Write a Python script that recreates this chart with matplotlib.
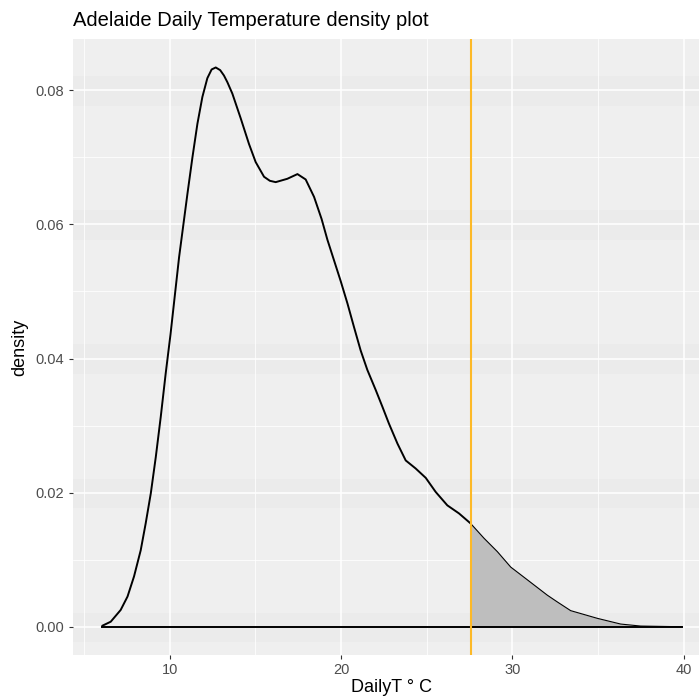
import matplotlib
matplotlib.use('Agg')
import matplotlib.pyplot as plt
from matplotlib.ticker import MultipleLocator, FormatStrFormatter

# density curve
temp = [6.03, 6.56, 7.14, 7.54, 7.92, 8.31, 8.60, 8.90, 9.19, 9.48, 9.77, 10.05,
        10.55, 11.04, 11.33, 11.62, 11.91, 12.20, 12.45, 12.69, 12.95, 13.17, 13.37,
        13.66, 14.15, 14.63, 15.02, 15.51, 15.85, 16.19, 16.87, 17.46, 17.94, 18.43,
        18.87, 19.21, 19.60, 19.99, 20.38, 20.76, 21.15, 21.54, 22.03, 22.42, 22.80,
        23.30, 23.78, 24.36, 24.95, 25.53, 26.21, 26.89, 27.57, 28.35, 29.13, 29.91,
        30.88, 32.05, 32.63, 33.41, 34.97, 36.33, 37.50, 39.90]
density = [0.0001, 0.00075, 0.0025, 0.0045, 0.0075, 0.0114, 0.0154, 0.0199, 0.0253,
           0.0313, 0.0378, 0.0436, 0.0551, 0.0646, 0.0700, 0.0750, 0.0790, 0.0818,
           0.0831, 0.0834, 0.0830, 0.0822, 0.0812, 0.0795, 0.0758, 0.0720, 0.0693,
           0.0671, 0.0665, 0.0663, 0.0668, 0.0675, 0.0667, 0.0641, 0.0608, 0.0577,
           0.0546, 0.0515, 0.0482, 0.0447, 0.0412, 0.0383, 0.0353, 0.0328, 0.0303,
           0.0273, 0.0248, 0.0236, 0.0222, 0.0201, 0.0181, 0.0169, 0.0154, 0.0132,
           0.0112, 0.0089, 0.0070, 0.0047, 0.0037, 0.0024, 0.00125, 0.0004, 0.0001,
           0.0000]
cutoff = 27.57

x_ticks = [10, 20, 30, 40]
y_ticks = [0.00, 0.02, 0.04, 0.06, 0.08]

W, H = 699, 698
fig = plt.figure(figsize=(W / 100, H / 100), dpi=100)
fig.patch.set_facecolor('white')

# panel in pixel coords (right edge runs past the image, as in the reference)
left, top, bottom = 72.7, 39.3, 654.7
xlim = (4.34, 41.6)
px_per_unit = 17.13
right = left + (xlim[1] - xlim[0]) * px_per_unit
ax = fig.add_axes([left / W, 1 - bottom / H, (right - left) / W, (bottom - top) / H])
ax.set_xlim(*xlim)
ax.set_ylim(-0.00417, 0.0876)

ax.set_facecolor('#EFEFEF')
for s in ax.spines.values():
    s.set_visible(False)

# faint darker bands around the major y grid lines
for yt in y_ticks:
    ax.axhspan(yt - 0.0023, yt + 0.0021, color='#EBEBEB', lw=0, zorder=0)

ax.xaxis.set_major_locator(MultipleLocator(10))
ax.xaxis.set_minor_locator(MultipleLocator(5))
ax.yaxis.set_major_locator(MultipleLocator(0.02))
ax.yaxis.set_minor_locator(MultipleLocator(0.01))
ax.yaxis.set_major_formatter(FormatStrFormatter('%.2f'))
ax.set_xticks(x_ticks)
ax.set_yticks(y_ticks)
ax.grid(which='major', color='white', lw=1.1, zorder=0.5)
ax.grid(which='minor', color='white', lw=0.55, zorder=0.5)
ax.set_axisbelow(True)
ax.tick_params(which='major', length=3.0, width=0.8, color='#333333',
               labelsize=10.5, labelcolor='#4D4D4D', pad=3)
ax.tick_params(which='minor', length=0)

# shaded tail
tail_x = [t for t in temp if t >= cutoff]
tail_y = [d for t, d in zip(temp, density) if t >= cutoff]
ax.fill_between(tail_x, 0, tail_y, color='#BEBEBE', lw=0, zorder=2)
ax.plot(tail_x, tail_y, color='black', lw=0.8, zorder=3)

# full density outline with baseline
ax.plot(temp[:temp.index(cutoff) + 1], density[:temp.index(cutoff) + 1],
        color='black', lw=1.4, zorder=3, solid_capstyle='butt')
ax.plot([temp[0], temp[-1]], [0, 0], color='black', lw=1.4, zorder=3)

ax.axvline(cutoff, color='#FDB927', lw=1.5, zorder=4)

fig.text(left / W, 1 - 26 / H, 'Adelaide Daily Temperature density plot',
         fontsize=14.5, family='Liberation Sans', va='baseline', ha='left')
fig.text((left + right) / 2 / W, 1 - 687 / H, 'DailyT \u00b0 C',
         fontsize=13, family='Liberation Sans', va='center', ha='center')
fig.text(20 / W, 1 - ((top + bottom) / 2) / H, 'density', rotation=90,
         fontsize=13, family='Liberation Sans', va='center', ha='center')

for lab in ax.get_xticklabels() + ax.get_yticklabels():
    lab.set_family('Liberation Sans')

fig.savefig('out.png', dpi=100)
